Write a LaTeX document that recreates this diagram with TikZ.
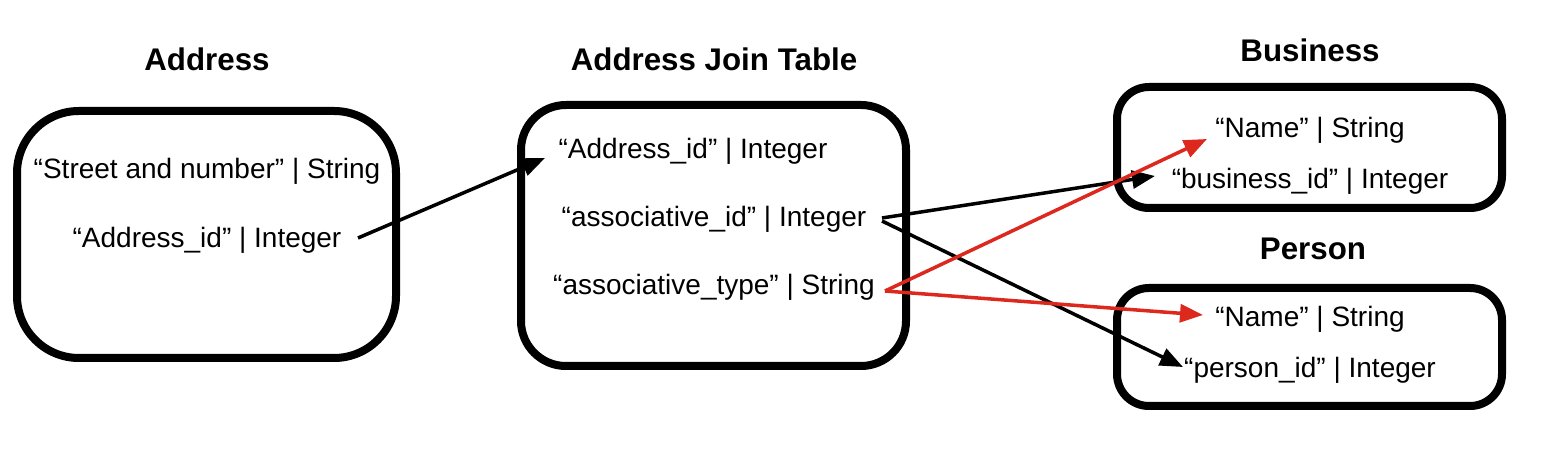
\documentclass[tikz,border=0pt]{standalone}
\usepackage{fontspec}
\setmainfont{Liberation Sans}
\usetikzlibrary{arrows.meta,shadows}
\definecolor{arrred}{RGB}{221,40,30}
\begin{document}
\begin{tikzpicture}[x=1pt,y=1pt,
  box/.style={draw=black,line width=8pt,fill=white,
    drop shadow={shadow xshift=0pt,shadow yshift=-4pt,fill=black!25,opacity=0.5}},
  title/.style={font=\fontsize{31.3}{37}\selectfont\bfseries,anchor=base,inner sep=0pt},
  field/.style={font=\fontsize{28}{33}\selectfont,anchor=base,inner sep=0pt},
  conn/.style={line width=3.5pt,-{Triangle[length=23pt,width=18pt]},shorten >=0pt},
  blk/.style={conn,draw=black},
  rd/.style={conn,draw=arrred}]
\useasboundingbox (0,0) rectangle (1566,476);
% boxes
\node[box,rounded corners=62pt,minimum width=379pt,minimum height=247pt] (addrbox) at (206.5,241.5) {};
\node[box,rounded corners=45pt,minimum width=385pt,minimum height=261pt] (joinbox) at (713.5,240.5) {};
\node[box,rounded corners=32pt,minimum width=385pt,minimum height=121pt] (busbox) at (1309.5,328.5) {};
\node[box,rounded corners=32pt,minimum width=385pt,minimum height=118pt] (perbox) at (1309.5,129) {};
% titles
\node[title] (taddr) at (207,405) {Address};
\node[title] (tjoin) at (714,405) {Address Join Table};
\node[title] (tbus) at (1310,414) {Business};
\node[title] (tper) at (1313,216) {Person};
% fields
\node[field] (street) at (207,297) {“Street and number” | String};
\node[field] (aid) at (207,228) {“Address\_id” | Integer};
\node[field] (jaid) at (693,317) {“Address\_id” | Integer};
\node[field] (jassoc) at (714,249) {“associative\_id” | Integer};
\node[field] (jtype) at (714,181) {“associative\_type” | String};
\node[field] (bname) at (1310,338) {“Name” | String};
\node[field] (bid) at (1310,287) {“business\_id” | Integer};
\node[field] (pname) at (1310,149) {“Name” | String};
\node[field] (pid) at (1310,98) {“person\_id” | Integer};
% connector ends
\coordinate (s1) at (358,238);
\coordinate (e1) at (545,318);
\coordinate (s2) at (882,258);
\coordinate (e2) at (1155,300);
\coordinate (s3) at (882,255);
\coordinate (e3) at (1183,109);
\coordinate (s4) at (885,185);
\coordinate (e4) at (1207,337);
\coordinate (e5) at (1203,161);
% connectors
\draw[blk] (s1) -- (e1);
\draw[blk] (s2) -- (e2);
\draw[blk] (s3) -- (e3);
\draw[rd] (s4) -- (e4);
\draw[rd] (s4) -- (e5);
\end{tikzpicture}
\end{document}
